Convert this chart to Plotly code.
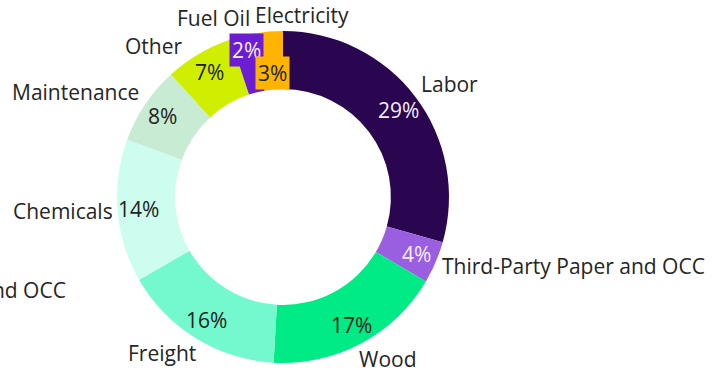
import math
import plotly.graph_objects as go

# Cost breakdown (share of total, %), clockwise from 12 o'clock
categories = ["Labor", "Third-Party Paper and OCC", "Wood", "Freight", "Chemicals",
              "Maintenance", "Other", "Fuel Oil", "Electricity"]
shares = [29.4, 4.1, 17.4, 15.8, 13.9, 7.6, 6.7, 2.4, 2.7]

colors = ["#2A0650", "#9A5FE0", "#00EA85", "#74F9CE", "#CCFDEE",
          "#C8EBD3", "#D0EF00", "#6C1DD2", "#FFB500"]
dark_slices = {"Labor", "Third-Party Paper and OCC", "Fuel Oil"}

W, H = 719, 371
CX, CY = 283, 197          # donut centre (px)
R_OUT = 166                 # outer radius (px)
HOLE = 0.65
FONT = "Open Sans"
FS = 21

# small per-label adjustments (px) for crowded top labels
label_nudge = {
    "Third-Party Paper and OCC": (0, 1),
    "Wood": (-6, 0),
    "Freight": (4, 0),
    "Chemicals": (2, -1),
    "Other": (-13, 6),
    "Fuel Oil": (10, -3),
    "Electricity": (-14, -2),
}
anchor_shift = {"bottom": 6, "top": -5, "middle": 0}
pct_radius = {"Fuel Oil": 152, "Electricity": 124}
boxed = {"Fuel Oil", "Electricity"}

fig = go.Figure(go.Pie(
    labels=categories,
    values=shares,
    hole=HOLE,
    sort=False,
    direction="clockwise",
    rotation=0,
    marker=dict(colors=colors, line=dict(width=0)),
    textinfo="none",
    hoverinfo="label+percent",
    domain=dict(x=[(CX - R_OUT) / W, (CX + R_OUT) / W],
                y=[(H - CY - R_OUT) / H, (H - CY + R_OUT) / H]),
))


def to_paper(px, py):
    return px / W, 1 - py / H


total = sum(shares)
annotations = []
cum = 0.0
for cat, val, col in zip(categories, shares, colors):
    mid = (cum + val / 2) / total
    cum += val
    th = 2 * math.pi * mid
    s, c = math.sin(th), math.cos(th)

    # percentage inside the ring
    rp = pct_radius.get(cat, 145)
    x, y = to_paper(CX + rp * s, CY - rp * c)
    pct = round(val / total * 100)
    ann = dict(x=x, y=y, xref="paper", yref="paper", text=f"{pct}%",
               showarrow=False, xanchor="center", yanchor="middle",
               font=dict(family=FONT, size=FS,
                         color="#F4EEFB" if cat in dark_slices else "#222222"))
    if cat in boxed:
        ann.update(bgcolor=col, borderpad=2)
    annotations.append(ann)

    # category name outside the ring
    rl = 172
    lx, ly = CX + rl * s, CY - rl * c
    xa = "left" if s > 0 else "right"
    ya = "bottom" if c > 0.45 else ("top" if c < -0.45 else "middle")
    if cat == "Electricity":
        xa = "left"
    dx, dy = label_nudge.get(cat, (0, 0))
    x, y = to_paper(lx + dx, ly + dy + anchor_shift[ya])
    annotations.append(dict(x=x, y=y, xref="paper", yref="paper", text=cat,
                            showarrow=False, xanchor=xa, yanchor=ya, borderpad=0,
                            font=dict(family=FONT, size=FS, color="#252525")))

# label of the neighbouring panel, partly cut by the left edge
x, y = to_paper(67, 290)
annotations.append(dict(x=x, y=y, xref="paper", yref="paper",
                        text="Third-Party Paper and OCC", showarrow=False,
                        xanchor="right", yanchor="middle", borderpad=0,
                        font=dict(family=FONT, size=FS, color="#252525")))

fig.update_layout(
    width=W, height=H,
    margin=dict(l=0, r=0, t=0, b=0),
    paper_bgcolor="white", plot_bgcolor="white",
    showlegend=False,
    annotations=annotations,
)

fig.write_html("out.html")
